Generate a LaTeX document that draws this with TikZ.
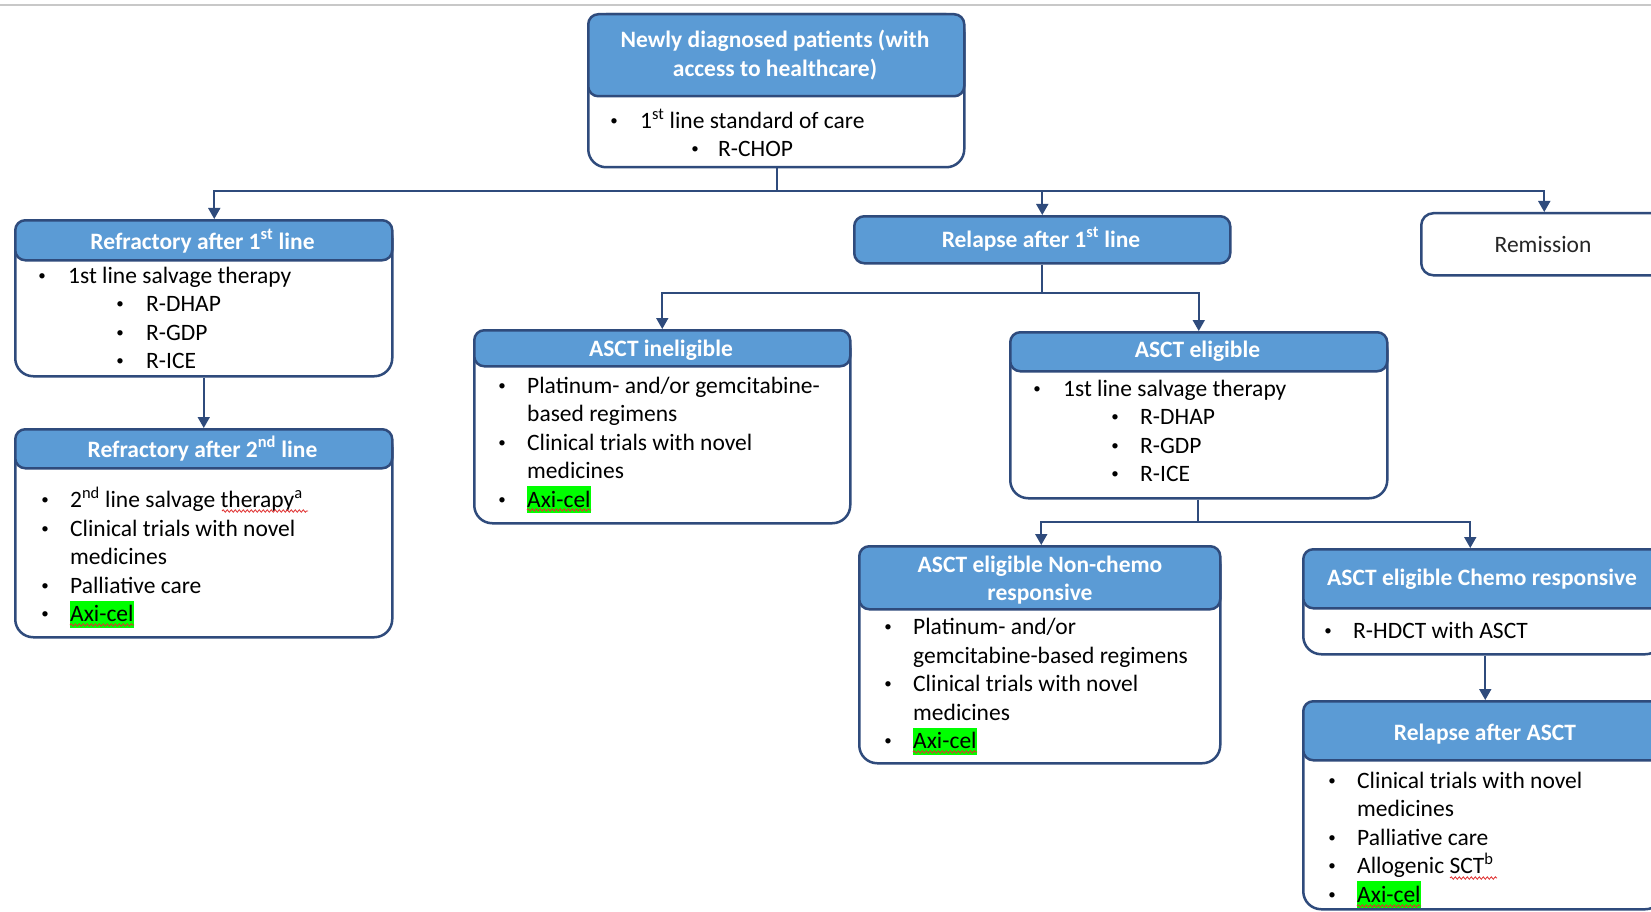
\documentclass[tikz,border=0pt]{standalone}
\usepackage{fontspec}
\setmainfont{Carlito}
\usetikzlibrary{arrows.meta,decorations.pathmorphing}
\definecolor{navy}{HTML}{2F4B7C}
\definecolor{hdrblue}{HTML}{5B9BD5}
\definecolor{hlgreen}{HTML}{00FF00}
\definecolor{topline}{HTML}{C8C8C8}
\definecolor{squig}{HTML}{E03030}
\definecolor{remtext}{HTML}{262626}
\newcommand{\bp}{\makebox[0pt][c]{\raisebox{2.8pt}{\fontsize{15}{15}\selectfont\textbullet}}}
\newcommand{\axi}{{\setlength{\fboxsep}{0pt}\colorbox{hlgreen}{\rule[-6pt]{0pt}{27pt}Axi-cel}}}
\newcommand{\fst}{\rule{0pt}{20pt}}
\tikzset{
  bodybox/.style={draw=navy, line width=2.5pt, fill=white, rounded corners=18pt, inner sep=0pt, anchor=north west},
  hdrbox/.style={draw=navy, line width=2.5pt, fill=hdrblue, rounded corners=10pt, inner sep=0pt, anchor=north west},
  hdrtext/.style={text=white, font=\fontsize{23.5}{28.5}\selectfont\bfseries, align=center, inner sep=0pt},
  bodytext/.style={font=\fontsize{23.5}{28.5}\selectfont, align=left, inner sep=0pt, anchor=north west, text=black},
  conn/.style={draw=navy, line width=1.8pt},
  arr/.style={conn, -{Triangle[length=11pt,width=12pt]}},
  squiggle/.style={draw=squig, line width=0.8pt, decorate, decoration={snake, amplitude=1.2pt, segment length=4pt}},
}
\begin{document}
\begin{tikzpicture}[x=1pt,y=-1pt]
\clip (0,0) rectangle (1651,912);
\fill[white] (0,0) rectangle (1651,912);
\draw[topline, line width=1.5pt] (0,5) -- (1651,5);

% Newly diagnosed
\node[bodybox, minimum width=376pt, minimum height=153pt] (newB) at (587,13) {};
\node[hdrbox, minimum width=376pt, minimum height=82pt] (newH) at (587,13) {};
\node[hdrtext, anchor=north] (newHT) at (775,27.5) {\fst Newly diagnosed patients (with\\access to healthcare)};
\node[bodytext] (newT) at (614,108) {\fst\bp\hspace*{26pt}1\textsuperscript{st} line standard of care\\
\hspace*{81pt}\bp\hspace*{23pt}R-CHOP};

% Refractory after 1st line
\node[bodybox, minimum width=377pt, minimum height=156pt] (ref1B) at (14,219) {};
\node[hdrbox, minimum width=377pt, minimum height=40pt] (ref1H) at (14,219) {};
\node[hdrtext, anchor=base] (ref1HT) at (202.5,249) {Refractory after 1\textsuperscript{st} line};
\node[bodytext] (ref1T) at (42,263) {\fst\bp\hspace*{26pt}1st line salvage therapy\\
\hspace*{78pt}\bp\hspace*{26pt}R-DHAP\\
\hspace*{78pt}\bp\hspace*{26pt}R-GDP\\
\hspace*{78pt}\bp\hspace*{26pt}R-ICE};

% Refractory after 2nd line
\node[bodybox, minimum width=377pt, minimum height=208pt] (ref2B) at (14,428) {};
\node[hdrbox, minimum width=377pt, minimum height=39pt] (ref2H) at (14,428) {};
\node[hdrtext, anchor=base] (ref2HT) at (202.5,457) {Refractory after 2\textsuperscript{nd} line};
\node[bodytext] (ref2T) at (45,487) {\fst\bp\hspace*{25pt}2\textsuperscript{nd} line salvage therapy\textsuperscript{a}\\
\bp\hspace*{25pt}Clinical trials with novel\\
\hspace*{25pt}medicines\\
\bp\hspace*{25pt}Palliative care\\
\bp\hspace*{25pt}\axi};

% Relapse after 1st line
\node[hdrbox, minimum width=376pt, minimum height=47pt] (rel1H) at (853,215) {};
\node[hdrtext, anchor=base] (rel1HT) at (1041,247) {Relapse after 1\textsuperscript{st} line};

% Remission
\node[bodybox, rounded corners=12pt, minimum width=246pt, minimum height=62pt] (remB) at (1420,212) {};
\node[font=\fontsize{23.5}{28.5}\selectfont, text=remtext, inner sep=0pt, anchor=base] (remT) at (1543,252) {Remission};

% ASCT ineligible
\node[bodybox, minimum width=376pt, minimum height=193pt] (inelB) at (473,329) {};
\node[hdrbox, minimum width=376pt, minimum height=36pt] (inelH) at (473,329) {};
\node[hdrtext, anchor=base] (inelHT) at (661,356) {ASCT ineligible};
\node[bodytext] (inelT) at (502,373) {\fst\bp\hspace*{25pt}Platinum- and/or gemcitabine-\\
\hspace*{25pt}based regimens\\
\bp\hspace*{25pt}Clinical trials with novel\\
\hspace*{25pt}medicines\\
\bp\hspace*{25pt}\axi};

% ASCT eligible
\node[bodybox, minimum width=377pt, minimum height=166pt] (eligB) at (1009,331) {};
\node[hdrbox, minimum width=377pt, minimum height=39pt] (eligH) at (1009,331) {};
\node[hdrtext, anchor=base] (eligHT) at (1197.5,357) {ASCT eligible};
\node[bodytext] (eligT) at (1037,376) {\fst\bp\hspace*{26pt}1st line salvage therapy\\
\hspace*{78pt}\bp\hspace*{25pt}R-DHAP\\
\hspace*{78pt}\bp\hspace*{25pt}R-GDP\\
\hspace*{78pt}\bp\hspace*{25pt}R-ICE};

% ASCT eligible Non-chemo responsive
\node[bodybox, minimum width=361pt, minimum height=217pt] (ncB) at (858,545) {};
\node[hdrbox, minimum width=361pt, minimum height=63pt] (ncH) at (858,545) {};
\node[hdrtext, anchor=north] (ncHT) at (1040,552) {\fst ASCT eligible Non-chemo\\responsive};
\node[bodytext] (ncT) at (888,614.5) {\fst\bp\hspace*{25pt}Platinum- and/or\\
\hspace*{25pt}gemcitabine-based regimens\\
\bp\hspace*{25pt}Clinical trials with novel\\
\hspace*{25pt}medicines\\
\bp\hspace*{25pt}\axi};

% ASCT eligible Chemo responsive
\node[bodybox, minimum width=360pt, minimum height=105pt] (crB) at (1302,548) {};
\node[hdrbox, minimum width=360pt, minimum height=59pt] (crH) at (1302,548) {};
\node[hdrtext, anchor=base] (crHT) at (1482,585) {ASCT eligible Chemo responsive};
\node[bodytext] (crT) at (1328,618) {\fst\bp\hspace*{25pt}R-HDCT with ASCT};

% Relapse after ASCT
\node[bodybox, minimum width=360pt, minimum height=208pt] (raB) at (1302,700) {};
\node[hdrbox, minimum width=360pt, minimum height=59pt] (raH) at (1302,700) {};
\node[hdrtext, anchor=base] (raHT) at (1485,740) {Relapse after ASCT};
\node[bodytext] (raT) at (1332,768) {\fst\bp\hspace*{25pt}Clinical trials with novel\\
\hspace*{25pt}medicines\\
\bp\hspace*{25pt}Palliative care\\
\bp\hspace*{25pt}Allogenic SCT\textsuperscript{b}\\
\bp\hspace*{25pt}\axi};

% spell-check squiggles
\draw[squiggle] (222,511) -- (308,511);
\draw[squiggle] (70,625) -- (134,625);
\draw[squiggle] (527,510) -- (591,510);
\draw[squiggle] (913,752) -- (977,752);
\draw[squiggle] (1450,878) -- (1497,878);
\draw[squiggle] (1357,906) -- (1421,906);

% connectors
\coordinate (j1) at (777,191);
\draw[conn] (newB.south -| j1) -- (j1);
\draw[arr] (j1) -| ([xshift=10.5pt]ref1H.north);
\draw[arr] (j1) -| (rel1H.north);
\draw[arr] (j1) -| (remB.north);
\draw[arr] (ref1B.south) -- (ref2H.north);

\coordinate (j2) at (1041,293);
\draw[conn] (rel1H.south) -- (rel1H.south |- j2);
\draw[arr] (j2) -| (inelH.north);
\draw[arr] (j2) -| (eligH.north);

\coordinate (j3) at (1198,522);
\draw[conn] (eligB.south -| j3) -- (j3);
\draw[arr] (j3) -| ([xshift=1.5pt]ncH.north);
\draw[arr] (j3) -| ([xshift=-13pt]crH.north);
\draw[arr] ([xshift=2pt]crB.south) -- ([xshift=2pt]raH.north);
\end{tikzpicture}
\end{document}
